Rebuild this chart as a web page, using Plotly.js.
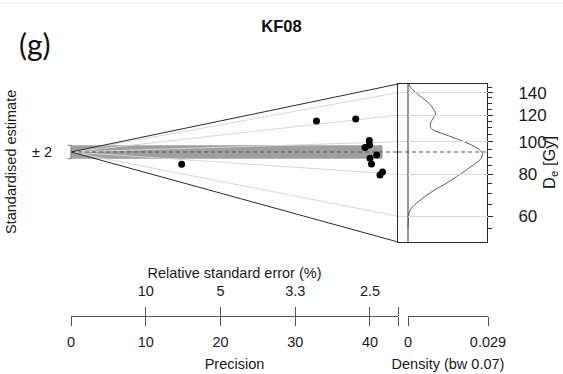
<!DOCTYPE html>
<html><head><meta charset="utf-8">
<script src="https://cdn.plot.ly/plotly-3.0.1.min.js"></script>
<style>html,body{margin:0;padding:0;background:#fff}</style>
</head><body>
<div id="chart" style="width:563px;height:374px"></div>
<script>
// ---------------- data ----------------
const sampleName = 'KF08';
const precision = [14.81, 32.84, 38.09, 39.91, 39.33, 39.93, 40.90, 40.00, 40.20, 41.67, 41.34];
const De = [72.7, 123.7, 120.8, 101.6, 96.5, 98.2, 91.2, 88.9, 85.2, 80.7, 78.9];
const centralDe = 93.2;
const zTicks = [60, 80, 100, 120, 140];
const zMinorTicks = [55, 65, 70, 75, 85, 90, 95, 105, 110, 115, 125, 130, 135, 145];
const zLimits = [50.3, 148.5];
const precisionTicks = [0, 10, 20, 30, 40];
const precisionMax = 43.75;
const rseTickPrecision = [10, 20, 30, 40];
const rseLabels = ['10', '5', '3.3', '2.5'];
const densityDe = [148.5, 144.2, 139.4, 134.6, 130.1, 125.7, 121.5, 117.4, 113.9, 110.8, 108.4, 104.7, 101.2, 97.8, 94.5, 92.4, 89.3, 86.3, 82.4, 78.7, 75.2, 71.9, 68.6, 65.6, 63.4, 61.3, 59.2, 55.9];
const densityVal = [0.0003, 0.00125, 0.0031, 0.0055, 0.0077, 0.0092, 0.0101, 0.0092, 0.0083, 0.0082, 0.0092, 0.0141, 0.0190, 0.0233, 0.0263, 0.0273, 0.0269, 0.0249, 0.0214, 0.0178, 0.0141, 0.0098, 0.0061, 0.0031, 0.00125, 0.0004, 0.0002, 0.0];
const densityMax = 0.029;
const densityLabel = 'Density (bw 0.07)';

// ---------------- layout helpers ----------------
const W = 563, H = 374;
const fx = px => px / W;
const fy = py => 1 - py / H;
const FONT = 'Liberation Sans, Arial, Helvetica, sans-serif';

const lnz0 = Math.log(centralDe);
const stdTop = (Math.log(zLimits[1]) - lnz0) * precisionMax;
const stdBot = (Math.log(zLimits[0]) - lnz0) * precisionMax;
// pixel frame of the radial plot
const X0 = 71, XR = 398, YT = 84, YB = 242, DX0 = 408, DXR = 487, AXY = 316;
const ppx = (XR - X0) / precisionMax;
const ppy = (YB - YT) / (stdTop - stdBot);

const stdY = De.map((d, i) => (Math.log(d) - lnz0) * precision[i]);
const maxP = Math.max(...precision);

const radX = [], radY = [];
zTicks.forEach(z => { radX.push(0, precisionMax, null); radY.push(0, (Math.log(z) - lnz0) * precisionMax, null); });

const dMinX = -(DX0 - XR) * densityMax / (DXR - DX0);

const traces = [
  { // +-2 band
    x: [0, maxP, maxP, 0, 0], y: [-2, -2, 2, 2, -2], xaxis: 'x', yaxis: 'y',
    mode: 'lines', fill: 'toself', fillcolor: '#9f9f9f', line: {width: 0}, hoverinfo: 'skip'
  },
  { // radial grid lines
    x: radX, y: radY, xaxis: 'x', yaxis: 'y', mode: 'lines',
    line: {color: '#d6d6d6', width: 1}, hoverinfo: 'skip'
  },
  { // central value, radial part
    x: [0, precisionMax], y: [0, 0], xaxis: 'x', yaxis: 'y', mode: 'lines',
    line: {color: '#555', width: 1, dash: '4px,3px'}, hoverinfo: 'skip'
  },
  { // central value, density part
    x: [dMinX, densityMax], y: [centralDe, centralDe], xaxis: 'x2', yaxis: 'y2', mode: 'lines',
    line: {color: '#555', width: 1, dash: '4px,3px'}, hoverinfo: 'skip'
  },
  { // outline of radial wedge
    x: [precisionMax, 0, precisionMax], y: [stdTop, 0, stdBot], xaxis: 'x', yaxis: 'y', mode: 'lines',
    line: {color: '#2a2a2a', width: 1}, hoverinfo: 'skip'
  },
  { // density zero line
    x: [0, 0], y: zLimits, xaxis: 'x2', yaxis: 'y2', mode: 'lines',
    line: {color: '#2a2a2a', width: 1}, hoverinfo: 'skip'
  },
  { // KDE curve
    x: densityVal, y: densityDe, xaxis: 'x2', yaxis: 'y2', mode: 'lines',
    line: {color: '#555', width: 1, shape: 'spline', smoothing: 0.8}, hoverinfo: 'skip'
  },
  { // +-2 bracket
    x: [-3.5 / ppx, 0, 0, -3.5 / ppx], y: [2, 2, -2, -2], xaxis: 'x', yaxis: 'y', mode: 'lines',
    line: {color: '#777', width: 1}, hoverinfo: 'skip'
  },
  { // points
    x: precision, y: stdY, xaxis: 'x', yaxis: 'y', mode: 'markers',
    marker: {color: '#000', size: 7}, cliponaxis: false
  },
  // carriers for the display-only axes
  { x: [null], y: [null], xaxis: 'x3', yaxis: 'y2', mode: 'markers', hoverinfo: 'skip' },
  { x: [null], y: [null], xaxis: 'x4', yaxis: 'y', mode: 'markers', hoverinfo: 'skip' },
  { x: [null], y: [null], xaxis: 'x5', yaxis: 'y', mode: 'markers', hoverinfo: 'skip' }
];

const axFont = {family: FONT, size: 14.5, color: '#1a1a1a'};
const endTick = {tickvals: [precisionMax], ticks: 'outside', ticklen: 9, tickcolor: '#555', showgrid: false};
const layout = {
  width: W, height: H,
  margin: {l: 0, r: 0, t: 0, b: 0, pad: 0},
  paper_bgcolor: '#fff', plot_bgcolor: 'rgba(0,0,0,0)',
  showlegend: false,
  font: {family: FONT, size: 14.5, color: '#1a1a1a'},
  title: {text: '<b>' + sampleName + '</b>', x: 0.5, xanchor: 'center', y: fy(26), yanchor: 'middle',
          font: {family: FONT, size: 16.5, color: '#111'}},
  xaxis: {
    visible: false, domain: [fx(60), fx(403)],
    range: [-(X0 - 60) / ppx, precisionMax + 5 / ppx], anchor: 'y'
  },
  yaxis: {
    domain: [fy(YB + 3), fy(YT - 3)], range: [stdBot - 3 / ppy, stdTop + 3 / ppy],
    anchor: 'free', position: fx(X0), showline: false, showgrid: false, zeroline: false,
    tickvals: [0], ticktext: ['± 2'], ticks: '', ticklabelstandoff: 19, tickfont: axFont
  },
  xaxis2: {
    domain: [fx(XR), fx(DXR)], range: [dMinX, densityMax], anchor: 'y2',
    showline: true, mirror: true, linecolor: '#2a2a2a', linewidth: 1,
    showticklabels: false, ticks: '', showgrid: false, zeroline: false
  },
  yaxis2: {
    type: 'log', domain: [fy(YB), fy(YT)],
    range: [Math.log10(zLimits[0]), Math.log10(zLimits[1])],
    anchor: 'x2', side: 'right', showline: true, mirror: true, linecolor: '#2a2a2a', linewidth: 1,
    ticks: 'outside', ticklen: 5, tickcolor: '#2a2a2a', tickvals: zTicks, ticktext: zTicks.map(String),
    ticklabelstandoff: 22,
    tickfont: {family: FONT, size: 17, color: '#1a1a1a'},
    showgrid: true, gridcolor: '#d9d9d9', gridwidth: 1, zeroline: false,
    minor: {tickvals: zMinorTicks, ticks: 'outside', ticklen: 4, tickcolor: '#2a2a2a', showgrid: false}
  },
  xaxis3: {
    domain: [fx(DX0), fx(DXR + 1)], range: [0, densityMax], anchor: 'free', position: fy(AXY),
    showline: true, linecolor: '#555', ticks: 'outside', ticklen: 9, tickcolor: '#555',
    tickvals: [0, densityMax - 1e-6], ticktext: ['0', String(densityMax)], tickfont: axFont,
    ticklabelstandoff: 4, showgrid: false, zeroline: false,
    title: {text: densityLabel, font: axFont, standoff: 9}
  },
  xaxis4: {
    domain: [fx(X0), fx(XR)], range: [0, precisionMax], anchor: 'free', position: fy(AXY),
    showline: true, linecolor: '#555', ticks: 'outside', ticklen: 9, tickcolor: '#555',
    tickvals: precisionTicks, ticktext: precisionTicks.map(String),
    minor: endTick, ticklabelstandoff: 4,
    tickfont: axFont, showgrid: false, zeroline: false,
    title: {text: 'Precision', font: axFont, standoff: 9}
  },
  xaxis5: {
    domain: [fx(X0), fx(XR)], range: [0, precisionMax], anchor: 'free', position: fy(AXY), side: 'top',
    showline: false, ticks: 'outside', ticklen: 9, tickcolor: '#555',
    tickvals: rseTickPrecision, ticktext: rseLabels, minor: endTick, ticklabelstandoff: 5,
    tickfont: axFont, showgrid: false, zeroline: false,
    title: {text: 'Relative standard error (%)', font: axFont, standoff: 0}
  },
  annotations: [
    {text: '(g)', x: fx(35), y: fy(44), xref: 'paper', yref: 'paper', showarrow: false,
     xanchor: 'center', yanchor: 'middle',
     font: {family: 'Lato, Open Sans, sans-serif', size: 30, color: '#111'}},
    {text: 'Standardised estimate', x: fx(11), y: fy(162), xref: 'paper', yref: 'paper', showarrow: false,
     xanchor: 'center', yanchor: 'middle', textangle: -90, font: axFont},
    {text: 'D<sub>e</sub> [Gy]', x: fx(550), y: fy(163), xref: 'paper', yref: 'paper', showarrow: false,
     xanchor: 'center', yanchor: 'middle', textangle: -90, font: {family: FONT, size: 16.5, color: '#1a1a1a'}}
  ],
  shapes: [
    {type: 'line', xref: 'paper', yref: 'paper', x0: 0, x1: 1, y0: fy(3), y1: fy(3), line: {color: '#eeeeee', width: 1}}
  ]
};

Plotly.newPlot('chart', traces, layout, {displayModeBar: false, staticPlot: true});
</script>
</body></html>
